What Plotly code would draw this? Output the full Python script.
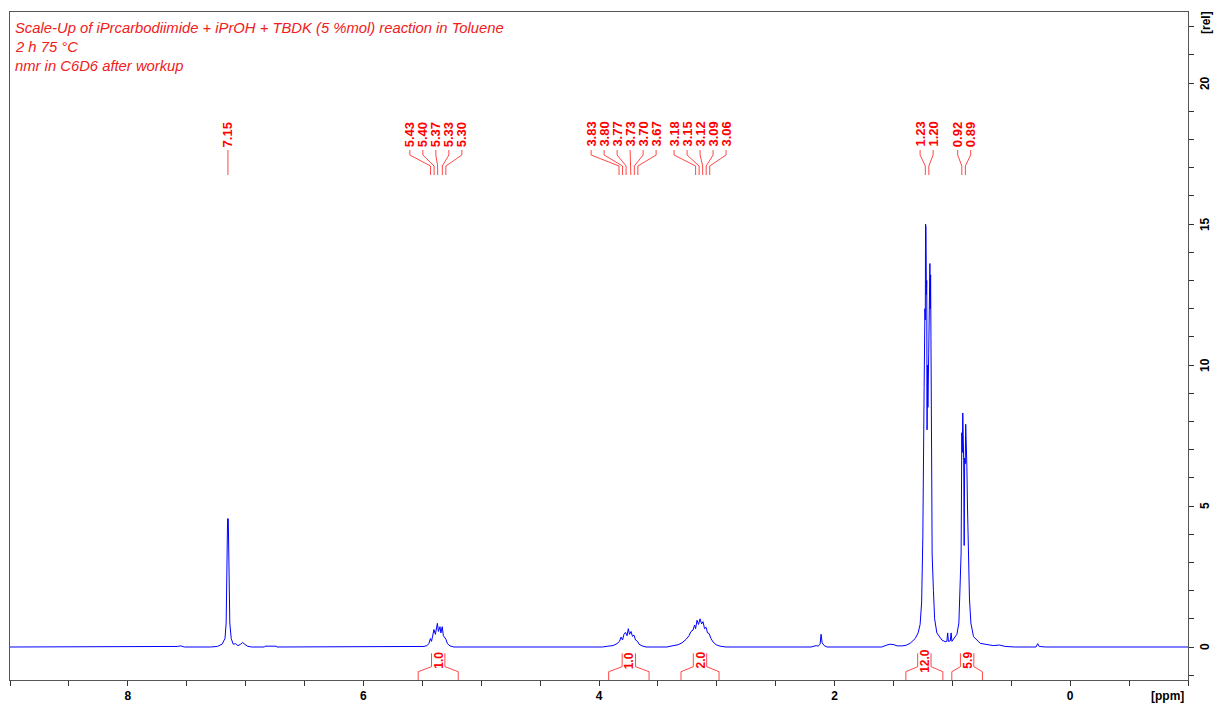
import plotly.graph_objects as go

# ---------------- data ----------------
PPM = [9.00, 7.62, 7.58, 7.55, 7.52, 7.30, 7.24, 7.20, 7.175, 7.165, 7.158, 7.153, 7.147, 7.141,
       7.134, 7.122, 7.105, 7.085, 7.066, 7.045, 7.025, 7.008, 6.985, 6.95, 6.84, 6.835, 6.74, 6.735,
       5.60, 5.52, 5.486, 5.461, 5.444, 5.431, 5.422, 5.414, 5.401, 5.389, 5.380, 5.372, 5.363,
       5.350, 5.342, 5.331, 5.321, 5.308, 5.300, 5.287, 5.265, 5.231,
       4.06, 4.05, 4.03, 3.99, 3.97, 3.924, 3.881, 3.847, 3.826, 3.813, 3.800, 3.788, 3.775,
       3.762, 3.751, 3.741, 3.728, 3.716, 3.703, 3.690, 3.673, 3.660, 3.635, 3.600,
       3.423, 3.38, 3.329, 3.295, 3.261, 3.236, 3.219, 3.202, 3.189, 3.180, 3.168, 3.155, 3.142,
       3.129, 3.117, 3.104, 3.091, 3.079, 3.066, 3.049, 3.032, 3.006, 2.972, 2.921,
       2.20, 2.157, 2.14, 2.123, 2.115, 2.106, 2.089, 2.064,
       1.60, 1.563, 1.529, 1.495, 1.469, 1.427, 1.393, 1.359, 1.316, 1.291, 1.274, 1.261, 1.251,
       1.240, 1.233, 1.230, 1.228, 1.224, 1.221, 1.218, 1.215, 1.212, 1.208, 1.201, 1.197, 1.195,
       1.191, 1.188, 1.185, 1.182, 1.179, 1.172, 1.161, 1.151, 1.132, 1.090, 1.062, 1.047, 1.040,
       1.034, 1.018, 1.011, 1.004, 0.985, 0.962, 0.945, 0.934, 0.926, 0.920, 0.916, 0.912, 0.908,
       0.904, 0.900, 0.896, 0.891, 0.887, 0.884, 0.881, 0.877, 0.872, 0.866, 0.855, 0.843, 0.821,
       0.764, 0.654, 0.60, 0.552, 0.467, 0.29, 0.276, 0.263, 0.21, -1.00]
INTENSITY = [0, 0, 0.02, 0.04, 0.0, 0, 0.02, 0.1, 0.3, 0.85, 3.1, 4.55, 4.55, 3.1,
             0.85, 0.3, 0.1, 0.12, 0.05, 0.09, 0.16, 0.1, 0.03, 0.0, 0.0, 0.03, 0.03, 0.0,
             0, 0.0, 0.02, 0.05, 0.12, 0.3, 0.2, 0.35, 0.62, 0.45, 0.7, 0.84, 0.55,
             0.72, 0.5, 0.72, 0.4, 0.32, 0.28, 0.12, 0.04, 0,
             0, 0.02, 0.0, 0.02, 0, 0.03, 0.05, 0.12, 0.2, 0.35, 0.25, 0.45, 0.52,
             0.4, 0.65, 0.45, 0.55, 0.38, 0.42, 0.25, 0.2, 0.1, 0.04, 0.0,
             0.0, 0.04, 0.08, 0.15, 0.27, 0.4, 0.55, 0.6, 0.78, 0.65, 0.95, 0.8, 1.0,
             0.82, 0.9, 0.65, 0.7, 0.5, 0.48, 0.3, 0.18, 0.08, 0.03, 0.0,
             0.0, 0.05, 0.03, 0.1, 0.45, 0.15, 0.05, 0.0,
             0.0, 0.06, 0.1, 0.08, 0.04, 0.04, 0.06, 0.13, 0.3, 0.5, 0.8, 1.6, 3.9,
             9.2, 12.0, 11.6, 15.0, 14.9, 12.5, 13.0, 7.7, 10.0, 8.5, 10.4, 12.2, 13.5,
             13.6, 12.0, 13.2, 11.0, 4.75, 3.3, 2.0, 1.0, 0.5, 0.25, 0.19, 0.2, 0.5,
             0.2, 0.22, 0.5, 0.2, 0.3, 0.45, 0.85, 2.1, 3.33, 7.6, 6.9, 8.3, 7.2,
             6.6, 3.6, 6.7, 6.5, 7.9, 6.9, 7.85, 6.4, 5.0, 4.0, 1.7, 0.85, 0.37,
             0.13, 0.05, 0.07, 0.02, 0.0, 0.0, 0.12, 0.02, 0.0, 0]

PEAK_GROUPS = [[7.15], [5.43, 5.40, 5.37, 5.33, 5.30], [3.83, 3.80, 3.77, 3.73, 3.70, 3.67],
               [3.18, 3.15, 3.12, 3.09, 3.06], [1.23, 1.20], [0.92, 0.89]]

INT_FROM = [5.535, 3.918, 3.304, 1.395, 1.005]
INT_TO = [5.195, 3.575, 2.981, 1.081, 0.745]
INT_VALUES = ["1.0", "1.0", "2.0", "12.0", "5.9"]

TITLE_LINES = ["Scale-Up of iPrcarbodiimide + iPrOH + TBDK (5 %mol) reaction in Toluene",
               "2 h 75 °C",
               "nmr in C6D6 after workup"]

X_TICKS = [8, 6, 4, 2, 0]
Y_TICKS = [0, 5, 10, 15, 20]

# ---------------- layout constants ----------------
W, H = 1215, 704
ML, MR, MT, MB = 10, 27, 12, 24
XR = [9.0, -1.0]
YR = [-1.17, 22.52]
PLOT_W = W - ML - MR
PLOT_H = H - MT - MB
PX_PER_PPM = PLOT_W / abs(XR[0] - XR[1])
PX_PER_UNIT = PLOT_H / (YR[1] - YR[0])
FONT = "Liberation Sans, Arial"

def py(pix_from_top):
    """convert pixel y (from figure top) to data units"""
    return YR[1] - (pix_from_top - MT) / PX_PER_UNIT

def paper_x(px):
    return (px - ML) / PLOT_W

def paper_y(px):
    return 1 - (px - MT) / PLOT_H

LABEL_CENTERS = [7.15, 5.385, 3.791, 3.142, 1.219, 0.900]
LABEL_SPACING = 13 / PX_PER_PPM

RED = "#ff0000"
RED_LINE = "rgba(255,40,40,0.85)"

fig = go.Figure()
fig.add_trace(go.Scatter(x=PPM, y=INTENSITY, mode="lines",
                         line=dict(color="#0000ff", width=1), hoverinfo="skip",
                         showlegend=False))

# peak label connectors
lx, ly = [], []
annotations = []
y_text = py(148)
y1, y2, y3, y4 = py(150), py(155), py(166), py(175)
for grp, c in zip(PEAK_GROUPS, LABEL_CENTERS):
    n = len(grp)
    for i, p in enumerate(grp):
        xl = c + ((n - 1) / 2 - i) * LABEL_SPACING
        lx += [xl, xl, p, p, None]
        ly += [y1, y2, y3, y4, None]
        annotations.append(dict(x=xl, y=y_text, xref="x", yref="y", text=f"{p:.2f}",
                                textangle=-90, showarrow=False, xanchor="center",
                                yanchor="bottom", borderpad=0,
                                font=dict(family=FONT, size=13, color=RED, weight="bold")))
fig.add_trace(go.Scatter(x=lx, y=ly, mode="lines", line=dict(color=RED_LINE, width=1),
                         hoverinfo="skip", showlegend=False))

# integral brackets
bx, byy = [], []
half_inner = 6.7 / PX_PER_PPM
yb_bot, yb_out, yb_in, yb_top = YR[0], py(671.7), py(666.7), py(653.3)
for a, b, v in zip(INT_FROM, INT_TO, INT_VALUES):
    c = (a + b) / 2
    bx += [a, a, c + half_inner, c + half_inner, None,
           b, b, c - half_inner, c - half_inner, None]
    byy += [yb_bot, yb_out, yb_in, yb_top, None,
            yb_bot, yb_out, yb_in, yb_top, None]
    annotations.append(dict(x=c, y=py(660.5), xref="x", yref="y", text=v, textangle=-90,
                            showarrow=False, xanchor="center", yanchor="middle", borderpad=0,
                            font=dict(family=FONT, size=12, color=RED, weight="bold")))
fig.add_trace(go.Scatter(x=bx, y=byy, mode="lines", line=dict(color=RED_LINE, width=1),
                         hoverinfo="skip", showlegend=False))

# title lines
for i, t in enumerate(TITLE_LINES):
    ypix = 28 + 19 * i
    annotations.append(dict(x=paper_x(14), y=paper_y(ypix), xref="paper", yref="paper",
                            text=f"<i>{t}</i>", showarrow=False, xanchor="left",
                            yanchor="middle", borderpad=0,
                            font=dict(family=FONT, size=14.8, color="#f02020")))

# y tick labels (rotated) drawn as annotations
for v in Y_TICKS:
    annotations.append(dict(x=paper_x(1205), y=v, xref="paper", yref="y", text=str(v),
                            textangle=-90, showarrow=False, xanchor="center",
                            yanchor="middle", borderpad=0,
                            font=dict(family=FONT, size=12, color="black", weight="bold")))

# axis unit labels
annotations.append(dict(x=paper_x(1185), y=paper_y(696), xref="paper", yref="paper",
                        text="[ppm]", showarrow=False, xanchor="right", yanchor="middle",
                        borderpad=0,
                        font=dict(family=FONT, size=12, color="black", weight="bold")))
annotations.append(dict(x=paper_x(1206), y=paper_y(23), xref="paper", yref="paper",
                        text="[rel]", showarrow=False, xanchor="center", yanchor="middle",
                        textangle=-90, borderpad=0,
                        font=dict(family=FONT, size=12, color="black", weight="bold")))

axis_col = "#555555"
fig.update_layout(
    width=W, height=H, margin=dict(l=ML, r=MR, t=MT, b=MB, autoexpand=False),
    plot_bgcolor="white", paper_bgcolor="white",
    showlegend=False, annotations=annotations,
    xaxis=dict(range=XR, automargin=False, showgrid=False, zeroline=False, showline=True,
               linecolor=axis_col, linewidth=1, mirror=True, ticks="outside", ticklen=5,
               tickcolor="#333", tickvals=X_TICKS, ticktext=[str(t) for t in X_TICKS],
               tickfont=dict(family=FONT, size=12, color="black", weight="bold"),
               minor=dict(dtick=0.5, tick0=0, ticks="outside", ticklen=5, tickcolor="#333",
                          showgrid=False)),
    yaxis=dict(range=YR, side="right", automargin=False, showgrid=False, zeroline=False,
               showline=True, linecolor=axis_col, linewidth=1, mirror=True, ticks="outside",
               ticklen=5, tickcolor="#333", tickvals=Y_TICKS, showticklabels=False,
               minor=dict(dtick=1, tick0=0, ticks="outside", ticklen=5, tickcolor="#333",
                          showgrid=False)),
)

fig.write_html("out.html", config={"displayModeBar": False},
               post_script="document.body.style.margin='0';"
                           "document.body.style.overflow='hidden';")
